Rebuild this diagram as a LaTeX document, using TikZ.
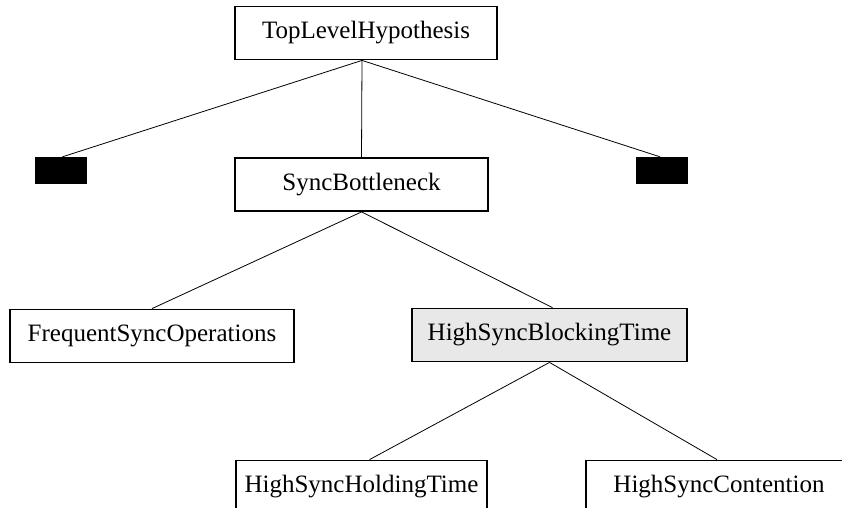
\documentclass[tikz,border=0pt]{standalone}
\usepackage{fontspec}
\setmainfont{Liberation Serif}

\begin{document}
\begin{tikzpicture}[x=1pt,y=-1pt]

% Colori
\definecolor{colFocus}{HTML}{E8E8E8}
\definecolor{colNode}{HTML}{000000}

% Stili
\tikzset{
  hyp/.style={draw=colNode, line width=1.8pt, fill=white, inner sep=0pt,
    minimum height=53pt, font=\fontsize{25}{30}\selectfont},
  hidden/.style={fill=black, draw=none, inner sep=0pt,
    minimum width=52pt, minimum height=27pt},
  link/.style={draw=black, line width=0.8pt}
}

% Area del disegno
\useasboundingbox (0,0) rectangle (842,507);
\clip (0,0) rectangle (842,507);

% Nodi
\node[hyp, minimum width=262pt] (top) at (366,33) {TopLevelHypothesis};
\node[hidden] (hidL) at (60.5,170.5) {};
\node[hidden] (hidR) at (662,170.5) {};
\node[hyp, minimum width=253pt] (sync) at (361.5,184.5) {SyncBottleneck};
\node[hyp, minimum width=284pt] (freq) at (152,336) {FrequentSyncOperations};
\node[hyp, minimum width=275pt, fill=colFocus] (block) at (549.5,335) {HighSyncBlockingTime};
\node[hyp, minimum width=251pt] (hold) at (361.5,487) {HighSyncHoldingTime};
\node[hyp, minimum width=266pt] (cont) at (719,487) {HighSyncContention};

% Collegamenti
\draw[link] ([xshift=-4pt]top.south) -- ([xshift=2pt]hidL.north);
\draw[link] ([xshift=-4pt]top.south) -- (sync.north);
\draw[link] ([xshift=-4pt]top.south) -- ([xshift=-2pt]hidR.north);
\draw[link] (sync.south) -- (freq.north);
\draw[link] (sync.south) -- ([xshift=3pt]block.north);
\draw[link] (block.south) -- ([xshift=8pt]hold.north);
\draw[link] (block.south) -- ([xshift=-2pt]cont.north);

\end{tikzpicture}
\end{document}
